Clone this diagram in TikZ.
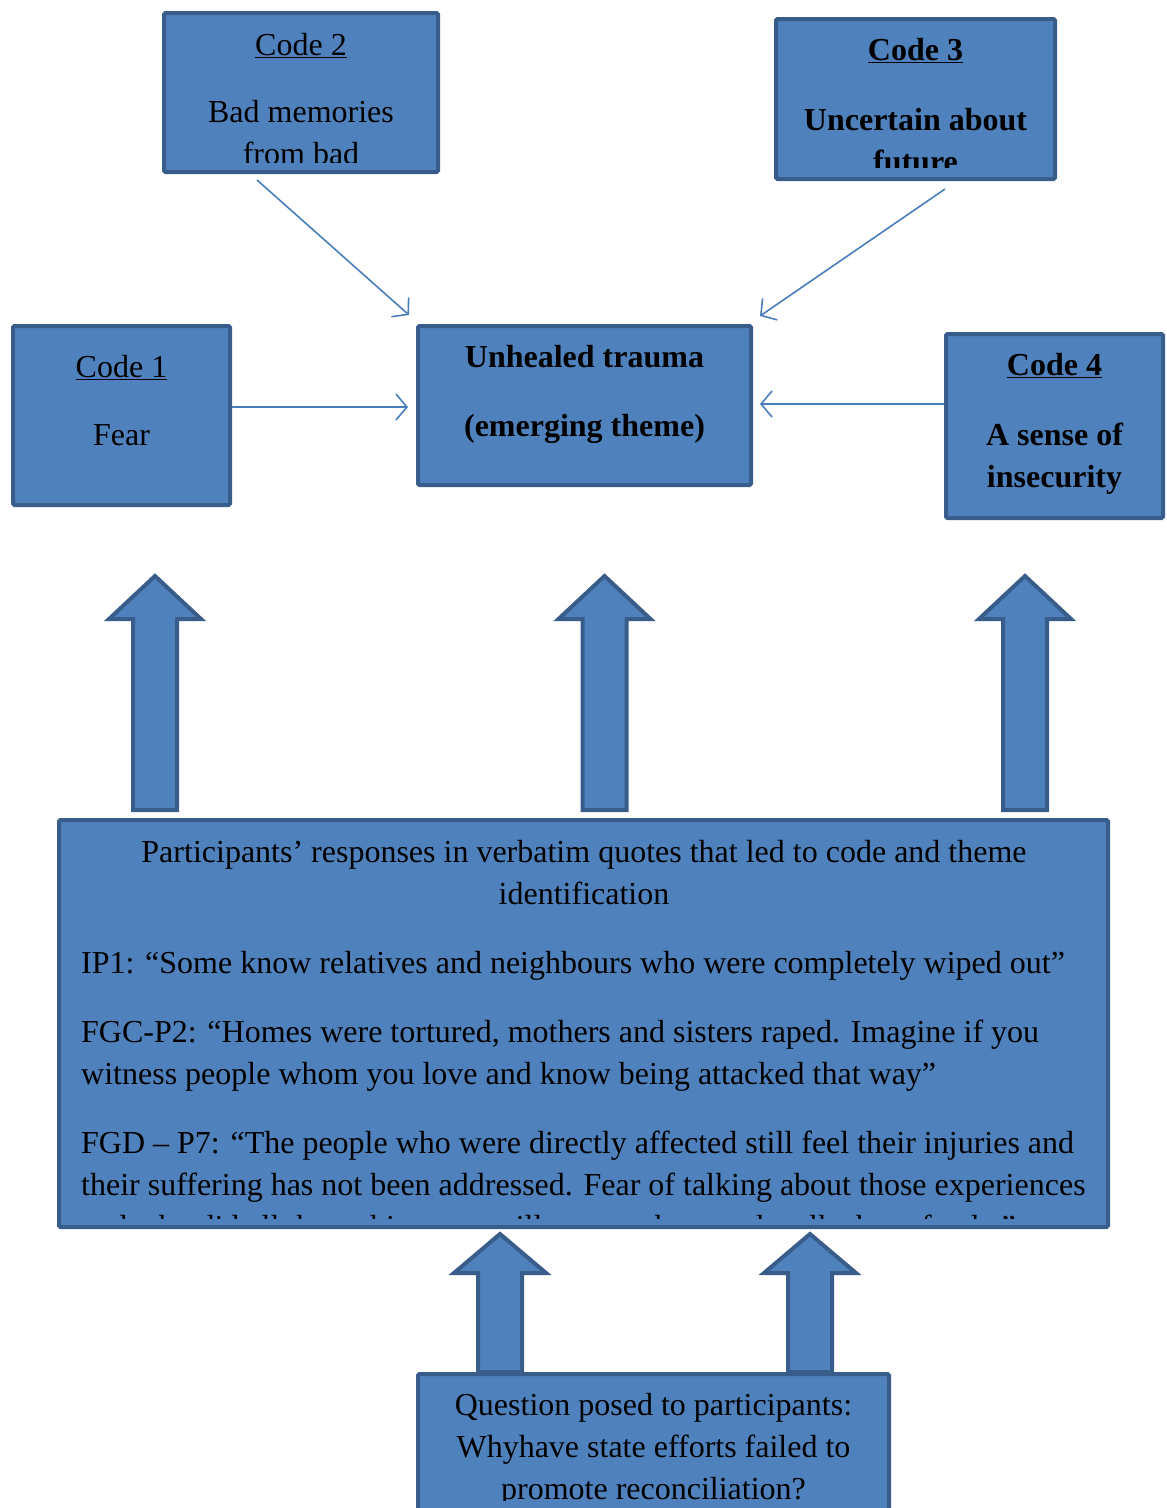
\documentclass[tikz,border=0pt]{standalone}
\usepackage{fontspec}
\setmainfont{Liberation Serif}
\usetikzlibrary{arrows.meta}

\definecolor{boxfill}{HTML}{4F81BD}
\definecolor{boxline}{HTML}{385D8A}
\definecolor{linkblue}{HTML}{4A7EBB}

\tikzset{
  codebox/.style={draw=boxline, fill=boxfill, line width=4pt, rectangle,
    inner sep=0pt, rounded corners=1.5pt},
  blockarrow/.style={draw=boxline, fill=boxfill, line width=4pt, line join=miter},
  link/.style={draw=linkblue, line width=1.6pt,
    -{Straight Barb[length=11pt,width=26pt,line width=1.6pt]}},
  lbl/.style={anchor=base, inner sep=0pt, font=\fontsize{32}{42}\selectfont},
  lbll/.style={lbl, anchor=base west},
}

% upward block arrow: x of axis, tip y, head base y, bottom y
\newcommand\blockup[4]{%
  \draw[blockarrow] (#1,#2) -- (#1+46,#3) -- (#1+22,#3) -- (#1+22,#4)
    -- (#1-22,#4) -- (#1-22,#3) -- (#1-46,#3) -- cycle;}

\begin{document}
\begin{tikzpicture}[x=1pt,y=-1pt]
\useasboundingbox (0,0) rectangle (1167,1508);

% ---- block arrows from the quotes up to the codes
\blockup{155}{576}{619}{810}
\blockup{604.5}{576}{619}{810}
\blockup{1025}{576}{619}{810}
\blockup{500}{1234}{1273}{1372}
\blockup{810}{1234}{1273}{1372}

% ---- code boxes
\node[codebox, minimum width=274pt, minimum height=159pt] (c2) at (301,92.5) {};
\begin{scope}
  \clip (166,15) rectangle (436,162);
  \node[lbl] (c2t) at (301,55) {\underline{Code 2}};
  \node[lbl] (c2a) at (301,122) {Bad memories};
  \node[lbl] (c2b) at (301,164) {from bad};
\end{scope}

\node[codebox, minimum width=279pt, minimum height=160pt] (c3) at (915.5,99) {};
\begin{scope}
  \clip (778,21) rectangle (1053,167);
  \node[lbl, font=\fontsize{32}{42}\selectfont\bfseries] (c3t) at (915.5,60) {\underline{Code 3}};
  \node[lbl, font=\fontsize{32}{42}\selectfont\bfseries] (c3a) at (915.5,130) {Uncertain about};
  \node[lbl, font=\fontsize{32}{42}\selectfont\bfseries] (c3b) at (915.5,172) {future};
\end{scope}

\node[codebox, minimum width=217pt, minimum height=179pt] (c1) at (121.5,415.5) {};
\node[lbl] (c1t) at (121.5,377) {\underline{Code 1}};
\node[lbl] (c1a) at (121.5,445) {Fear};

\node[codebox, minimum width=333pt, minimum height=159pt] (th) at (584.5,405.5) {};
\node[lbl, font=\fontsize{32}{42}\selectfont\bfseries] (tht) at (584.5,367) {Unhealed trauma};
\node[lbl, font=\fontsize{32}{42}\selectfont\bfseries] (tha) at (584.5,436) {(emerging theme)};

\node[codebox, minimum width=217pt, minimum height=184pt] (c4) at (1054.5,426) {};
\node[lbl, font=\fontsize{32}{42}\selectfont\bfseries] (c4t) at (1054.5,375) {\underline{Code 4}};
\node[lbl, font=\fontsize{32}{42}\selectfont\bfseries] (c4a) at (1054.5,445) {A sense of};
\node[lbl, font=\fontsize{32}{42}\selectfont\bfseries] (c4b) at (1054.5,487) {insecurity};

% ---- thin connectors from the codes to the theme
\coordinate (l2s) at (257,180);
\coordinate (l2e) at (409,315);
\coordinate (l3s) at (945,189);
\coordinate (l3e) at (760,316);
\coordinate (l1e) at (408,407);
\coordinate (l4e) at (760,404);
\draw[link] (l2s) -- (l2e);
\draw[link] (l3s) -- (l3e);
\draw[link] (l1e -| c1.east) -- (l1e);
\draw[link] (l4e -| c4.west) -- (l4e);

% ---- quotes box
\node[codebox, minimum width=1049pt, minimum height=407pt] (qt) at (583.5,1023.5) {};
\begin{scope}
  \clip (61,822) rectangle (1106,1218);
  \node[lbl] (qh1) at (584,862) {Participants’ responses in verbatim quotes that led to code and theme};
  \node[lbl] (qh2) at (584,904) {identification};
  \node[lbll] (qa1) at (81,973) {IP1: “Some know relatives and neighbours who were completely wiped out”};
  \node[lbll] (qb1) at (81,1042) {FGC-P2: “Homes were tortured, mothers and sisters raped. Imagine if you};
  \node[lbll] (qb2) at (81,1084) {witness people whom you love and know being attacked that way”};
  \node[lbll] (qc1) at (81,1153) {FGD – P7: “The people who were directly affected still feel their injuries and};
  \node[lbll] (qc2) at (81,1195) {their suffering has not been addressed. Fear of talking about those experiences};
  \node[lbll] (qc3) at (81,1237) {and who did all these things are still among them and walk about freely.”};
\end{scope}

% ---- question box (runs past the lower edge)
\node[codebox, minimum width=471pt, minimum height=180pt] (qn) at (653.5,1464) {};
\begin{scope}
  \clip (420,1376) rectangle (887,1500);
  \node[lbl] (qn1) at (653.5,1415) {Question posed to participants:};
  \node[lbl] (qn2) at (653.5,1457) {Whyhave state efforts failed to};
  \node[lbl] (qn3) at (653.5,1499) {promote reconciliation?};
\end{scope}
\end{tikzpicture}
\end{document}
